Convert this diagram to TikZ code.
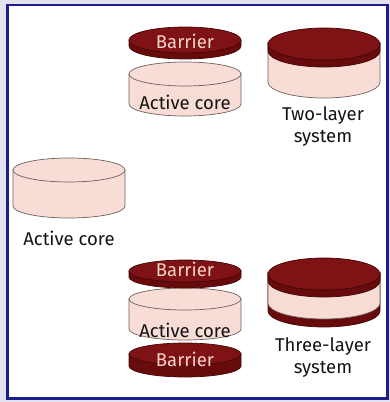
\documentclass[tikz,border=0pt]{standalone}
\usepackage{fontspec}
\setmainfont{Fira Sans}
\usetikzlibrary{positioning}

\definecolor{barface}{HTML}{7E1214}
\definecolor{barside}{HTML}{680B0D}
\definecolor{barline}{HTML}{460608}
\definecolor{bartext}{HTML}{F6D2C8}
\definecolor{corefill}{HTML}{F7DDD5}
\definecolor{coreline}{HTML}{6E6260}
\definecolor{framebg}{HTML}{E2E2EE}
\definecolor{frameline}{HTML}{1C1C8A}

% side of a drum: cx, face y, bottom y, rx, ry, style
\newcommand{\drumside}[6]{%
  \filldraw[#6] ({#1-#4},#2) -- ({#1-#4},#3)
    arc[start angle=180,end angle=0,x radius=#4,y radius=#5] -- ({#1+#4},#2) -- cycle;}
% top face of a drum: cx, face y, rx, ry, style
\newcommand{\drumtop}[5]{%
  \filldraw[#5] (#1,#2) ellipse[x radius=#3,y radius=#4];}
% band just under the lid: cx, lid y, band bottom y, rx, ry, style
\newcommand{\drumband}[6]{%
  \filldraw[#6] ({#1-#4},#2) -- ({#1-#4},#3)
    arc[start angle=180,end angle=0,x radius=#4,y radius=#5] -- ({#1+#4},#2)
    arc[start angle=0,end angle=180,x radius=#4,y radius=#5] -- cycle;}

\begin{document}
\begin{tikzpicture}[x=1pt, y=-1pt,
    barS/.style={fill=barside, draw=barline, line width=0.7pt},
    barT/.style={fill=barface, draw=barline, line width=0.7pt},
    coreS/.style={fill=corefill, draw=coreline, line width=0.7pt},
    lbl/.style={font=\fontsize{18.5}{22}\selectfont, text=black!92, align=center, inner sep=0pt},
    inlbl/.style={font=\fontsize{18.5}{22}\selectfont, text=black!92, inner sep=0pt},
    barlbl/.style={font=\fontsize{18.5}{22}\selectfont, text=bartext, inner sep=0pt}
]
% frame
\fill[framebg] (0,0) rectangle (390,402);
\filldraw[fill=white, draw=frameline, line width=2.2pt] (7.5,5) rectangle (387.5,398.5);
\useasboundingbox (0,0) rectangle (390,402);

% single active core
\drumside{69}{170}{206}{56}{12}{coreS}
\drumtop{69}{170}{56}{12}{coreS}
\node[lbl] (core) at (69,238) {Active core};

% two layers, apart
\drumside{185}{74}{104}{56}{12}{coreS}
\drumtop{185}{74}{56}{12}{coreS}
\node[inlbl] (twocore) at (185,102) {Active core};
\drumside{185}{40}{46}{56}{13}{barS}
\drumtop{185}{40}{56}{13}{barT}
\node[barlbl] (twobar) at (185,41) {Barrier};

% two-layer system
\drumside{324}{44}{82}{56}{16}{coreS}
\drumband{324}{44}{51}{56}{16}{barS}
\drumtop{324}{44}{56}{16}{barT}
\node[lbl] (twosys) at (323,127) {Two-layer\\system};

% three layers, apart
\drumside{185}{354}{366}{56}{11}{barS}
\drumtop{185}{354}{56}{11}{barT}
\node[barlbl] (lowbar) at (185,359) {Barrier};
\drumside{185}{299}{329}{56}{11}{coreS}
\drumtop{185}{299}{56}{11}{coreS}
\node[inlbl] (threecore) at (185,330) {Active core};
\drumside{185}{271}{277}{56}{11}{barS}
\drumtop{185}{271}{56}{11}{barT}
\node[barlbl] (upbar) at (185,269) {Barrier};

% three-layer system
\drumside{324}{274}{311}{56}{16}{barS}
\drumband{324}{274}{303}{56}{16}{coreS}
\drumband{324}{274}{281}{56}{16}{barS}
\drumtop{324}{274}{56}{16}{barT}
\node[lbl] (threesys) at (323,358) {Three-layer\\system};
\end{tikzpicture}
\end{document}
